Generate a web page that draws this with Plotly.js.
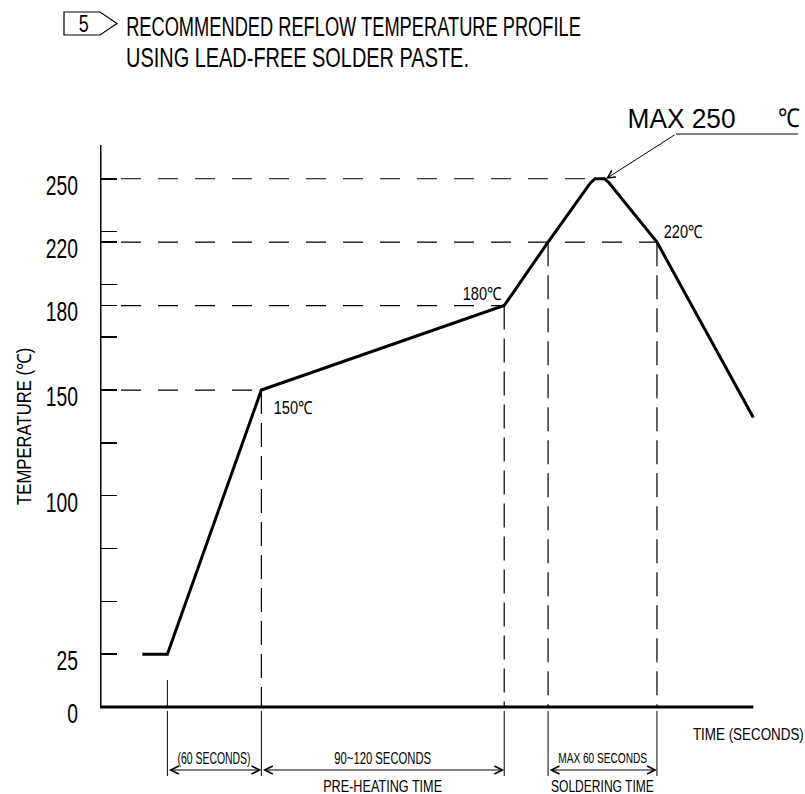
<!DOCTYPE html>
<html><head><meta charset="utf-8">
<script src="https://cdn.plot.ly/plotly-3.0.1.min.js"></script>
<style>html,body{margin:0;padding:0;background:#fff}</style>
</head><body><div id="chart" style="width:805px;height:794px"></div>
<script>
// ---- data (time in seconds from the y-axis, temperature level on the chart's drawn scale) ----
const profileTime = [27, 43, 103, 258, 286, 313, 316, 322, 325, 355.5, 417];
const profileTemp = [25, 25, 150, 190, 220, 248, 250, 250, 248, 220, 137];

const tickPos = [0, 25, 100, 150, 190, 220, 250];
const tickLabels = ['0', '25', '100', '150', '180', '220', '250'];
const minorTickPos = [50, 75, 125, 175, 200, 225];

const refLevels = [150, 190, 220, 250];
const refLevelEnd = [103, 258, 355.5, 316];

const pointLabels = ['150℃', '180℃', '220℃'];
const pointLabelTime = [103, 258, 355.5];
const pointLabelTemp = [150, 190, 220];

const phaseTimes = [103, 258, 286, 355.5];
const phaseTemps = [150, 190, 220, 220];
const rampStart = 43;

const spanStart = [43, 103, 286];
const spanEnd = [103, 258, 355.5];
const spanTop = ['(60 SECONDS)', '90~120 SECONDS', 'MAX 60 SECONDS'];
const spanBottom = ['', 'PRE-HEATING TIME', 'SOLDERING TIME'];

const peakTime = 323, peakTemp = 250;
const peakLabel = ['MAX 250', '℃'];
const titleLines = ['RECOMMENDED REFLOW TEMPERATURE PROFILE', 'USING LEAD-FREE SOLDER PASTE.'];

// ---- scale / layout constants ----
const W = 805, H = 794, X0 = 100, Y0 = 707, PXS = 1.5667, PXD = 2.113;
const T = px => (px - X0) / PXS;          // pixel -> time
const Y = py => (Y0 - py) / PXD;          // pixel -> temperature
const PX = px => (px - X0) / (W - X0);    // pixel -> paper x
const PY = py => (H - py) / H;            // pixel -> paper y
const FONT = "'Liberation Sans', Arimo, Arial, sans-serif";
const INK = '#000';

const shapes = [];
const annotations = [];
const fits = [];   // per annotation: {w: target width px, anchor} or null
function ann(a, fit) { annotations.push(a); fits.push(fit || null); }

// axes lines
shapes.push({type: 'line', xref: 'x', yref: 'y', x0: 0, x1: 0, y0: 0, y1: Y(145), line: {color: INK, width: 3}});
shapes.push({type: 'line', xref: 'x', yref: 'y', x0: 0, x1: profileTime[profileTime.length - 1], y0: 0, y1: 0, line: {color: INK, width: 3}});

// horizontal dashed reference levels
refLevels.forEach((lv, i) => shapes.push({type: 'line', xref: 'x', yref: 'y', x0: T(121), x1: refLevelEnd[i], y0: lv, y1: lv,
  line: {color: INK, width: 1.2, dash: '20px,17px'}}));
// vertical dashed phase lines
phaseTimes.forEach((t, i) => shapes.push({type: 'line', xref: 'x', yref: 'y', x0: t, x1: t, y0: phaseTemps[i], y1: 0,
  line: {color: INK, width: 1.2, dash: '24px,9px'}}));
// extension lines below axis
const extTimes = [rampStart].concat(phaseTimes);
extTimes.forEach(t => shapes.push({type: 'line', xref: 'x', yref: 'y', x0: t, x1: t, y0: Y(711), y1: Y(776), line: {color: INK, width: 1}}));
shapes.push({type: 'line', xref: 'x', yref: 'y', x0: rampStart, x1: rampStart, y0: Y(680), y1: 0, line: {color: INK, width: 1}});

// MAX 250 leader underline
shapes.push({type: 'line', xref: 'x', yref: 'y', x0: T(676), x1: T(798), y0: Y(134), y1: Y(134), line: {color: INK, width: 1}});

// flag-note symbol
shapes.push({type: 'path', xref: 'paper', yref: 'paper',
  path: `M${PX(100)},${PY(12)} L${PX(64)},${PY(12)} L${PX(64)},${PY(35)} L${PX(100)},${PY(35)} L${PX(117)},${PY(23.5)} Z`,
  line: {color: INK, width: 1.2}});
ann({xref: 'paper', yref: 'paper', x: PX(83), y: PY(24), text: '5', showarrow: false,
  font: {family: FONT, size: 24, color: INK}, xanchor: 'center', yanchor: 'middle'}, {w: 10, anchor: 'center'});

// title lines
const titleW = [455, 343];
titleLines.forEach((s, i) => ann({xref: 'paper', yref: 'paper', x: PX(124), y: PY(26 + 32 * i), text: s,
  showarrow: false, xanchor: 'left', yanchor: 'middle', font: {family: FONT, size: 28, color: INK}}, {w: titleW[i], anchor: 'left'}));

// point labels
const lblShift = [[32, -18], [-22, 12], [26, 10]];
pointLabels.forEach((s, i) => ann({xref: 'x', yref: 'y', x: pointLabelTime[i], y: pointLabelTemp[i], text: s,
  showarrow: false, xanchor: 'center', yanchor: 'middle', xshift: lblShift[i][0], yshift: lblShift[i][1],
  font: {family: FONT, size: 18, color: INK}}, {w: 39, anchor: 'center'}));

// MAX 250 label and leader arrow
ann({xref: 'x', yref: 'y', x: T(681), y: Y(118), text: peakLabel[0], showarrow: false,
  font: {family: FONT, size: 28, color: INK}, xanchor: 'center', yanchor: 'middle'}, {w: 108, anchor: 'center'});
ann({xref: 'x', yref: 'y', x: T(789), y: Y(118), text: peakLabel[1], showarrow: false,
  font: {family: FONT, size: 26, color: INK}, xanchor: 'center', yanchor: 'middle'}, {w: 22, anchor: 'center'});
ann({xref: 'x', yref: 'y', axref: 'x', ayref: 'y', x: peakTime, y: peakTemp, ax: T(676), ay: Y(134),
  text: '', showarrow: true, arrowhead: 5, arrowsize: 1.5, arrowwidth: 1, arrowcolor: INK, standoff: 0, font: {size: 1}});

// dimension spans
const topW = [73, 97, 89], topSize = [16, 16, 14.5];
const botW = [0, 119, 103];
spanStart.forEach((s, i) => {
  ann({xref: 'x', yref: 'y', axref: 'x', ayref: 'y', x: spanEnd[i], y: Y(770), ax: s, ay: Y(770),
    text: '', showarrow: true, arrowside: 'end+start', arrowhead: 5, startarrowhead: 5, arrowsize: 1.6, startarrowsize: 1.6,
    arrowwidth: 1, arrowcolor: INK, standoff: 0, startstandoff: 0, font: {size: 1}});
  const mid = (s + spanEnd[i]) / 2;
  ann({xref: 'x', yref: 'y', x: mid, y: Y(758), text: spanTop[i], showarrow: false,
    font: {family: FONT, size: topSize[i], color: INK}, xanchor: 'center', yanchor: 'middle'}, {w: topW[i], anchor: 'center'});
  if (spanBottom[i]) ann({xref: 'x', yref: 'y', x: mid, y: Y(786), text: spanBottom[i], showarrow: false,
    font: {family: FONT, size: 16.5, color: INK}, xanchor: 'center', yanchor: 'middle'}, {w: botW[i], anchor: 'center'});
});

// axis titles
ann({xref: 'x', yref: 'y', x: T(748.5), y: Y(734), text: 'TIME (SECONDS)', showarrow: false,
  font: {family: FONT, size: 17, color: INK}, xanchor: 'center', yanchor: 'middle'}, {w: 111, anchor: 'center'});
ann({xref: 'paper', yref: 'paper', x: PX(24), y: PY(427), text: 'TEMPERATURE (℃)', showarrow: false,
  textangle: -90, font: {family: FONT, size: 19.5, color: INK}, xanchor: 'center', yanchor: 'middle'}, {w: 157, anchor: 'center'});

const trace = {x: profileTime, y: profileTemp, type: 'scatter', mode: 'lines',
  line: {color: INK, width: 3}, hoverinfo: 'skip', cliponaxis: false};

const layout = {
  width: W, height: H, margin: {l: X0, r: 0, t: 0, b: 0}, paper_bgcolor: '#fff', plot_bgcolor: '#fff', showlegend: false,
  xaxis: {range: [0, (W - X0) / PXS], visible: false, fixedrange: true},
  yaxis: {range: [-(H - Y0) / PXD, Y0 / PXD], showgrid: false, zeroline: false, showline: false,
    tickmode: 'array', tickvals: tickPos, ticktext: tickLabels, ticks: 'inside', ticklen: 17, tickwidth: 1.5, tickcolor: INK,
    ticklabelstandoff: 21, ticklabelshift: 6,
    tickfont: {family: FONT, size: 28, color: INK},
    minor: {tickmode: 'array', tickvals: minorTickPos, ticks: 'inside', ticklen: 17, tickwidth: 1.5, tickcolor: INK, showgrid: false}},
  shapes: shapes, annotations: annotations
};

// condense text horizontally (the reference uses a narrow drafting font)
function squeeze(el, sx, anchor) {
  const bb = el.getBBox();
  if (!bb.width) return;
  const fx = anchor === 'left' ? bb.x : anchor === 'right' ? bb.x + bb.width : bb.x + bb.width / 2;
  const fy = bb.y + bb.height / 2;
  const prev = el.getAttribute('transform') || '';
  el.setAttribute('transform', `${prev} translate(${fx},${fy}) scale(${sx},1) translate(${-fx},${-fy})`);
}

Plotly.newPlot('chart', [trace], layout, {staticPlot: true, displayModeBar: false}).then(gd => {
  gd.querySelectorAll('g.annotation').forEach(g => {
    const i = +g.getAttribute('data-index');
    const f = fits[i];
    const t = g.querySelector('text.annotation-text');
    if (!f || !t) return;
    const bb = t.getBBox();
    if (bb.width) squeeze(t, f.w / bb.width, f.anchor);
  });
  gd.querySelectorAll('g.ytick text').forEach(t => squeeze(t, 0.69, 'right'));
});
</script></body></html>
